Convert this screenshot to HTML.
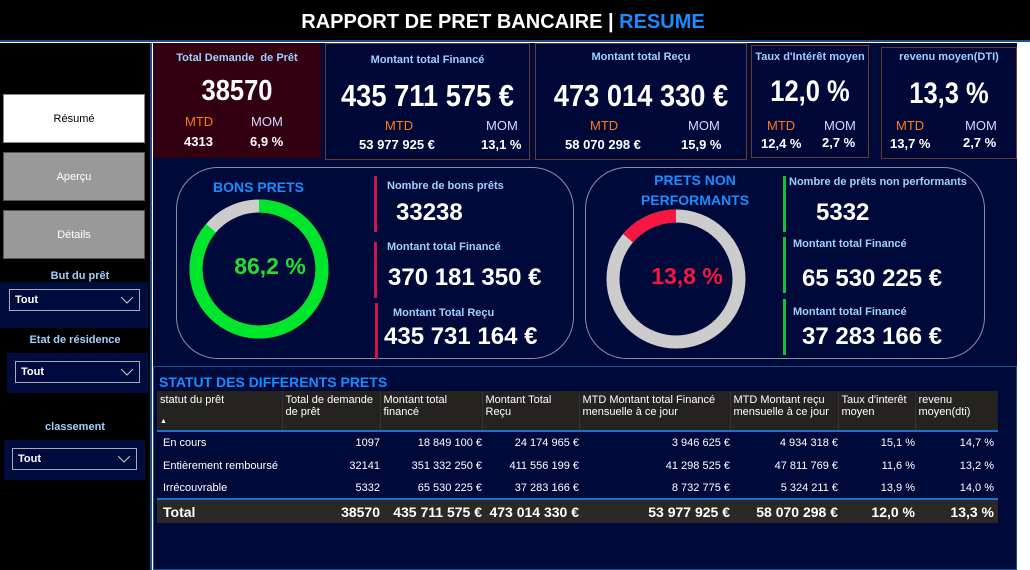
<!DOCTYPE html>
<html><head><meta charset="utf-8"><style>
*{margin:0;padding:0;box-sizing:border-box}
body{width:1030px;height:570px;background:#fff;position:relative;overflow:hidden;font-family:"Liberation Sans",sans-serif}
.a{position:absolute}
.big{font-family:"Liberation Sans Narrow","Liberation Sans",sans-serif;font-weight:bold;color:#fff;text-align:center}
.card .big{transform:scaleX(0.88)}
.lbl{color:#9fd0ff;font-weight:bold;font-size:11px}
.card{position:absolute;border:1px solid #6a3a2c;background:#000838}
.card .t{position:absolute;width:100%;text-align:center;top:8px}
.mtd{position:absolute;color:#ff7a1a;font-size:13px;font-family:"Liberation Sans",sans-serif}
.mom{position:absolute;color:#cfd8ff;font-size:13px;font-family:"Liberation Sans",sans-serif}
.v{position:absolute;color:#fff;font-weight:bold;font-size:13px;font-family:"Liberation Sans Narrow","Liberation Sans",sans-serif}
.btn{position:absolute;left:3px;width:142px;height:49px;font-size:11px;display:flex;align-items:center;justify-content:center;border:1px solid #555}
.flab{position:absolute;width:150px;text-align:center;color:#9fd0ff;font-size:11px;font-weight:bold}
.fpan{position:absolute;background:#000b3e}
.sel{position:absolute;border:1px solid #aab;color:#fff;font-size:11px;font-weight:bold;padding:4px 0 0 5px}
.sel svg{position:absolute;right:6px;top:7px}
.bar{position:absolute;width:3px}
table{border-collapse:collapse;font-family:"Liberation Sans Narrow","Liberation Sans",sans-serif;font-size:11px;color:#fff}
</style></head><body>
<div class="a" style="left:0;top:0;width:1030px;height:42px;background:#000;border-bottom:2px solid #1b4e8a"></div>
<div class="a" style="left:0;top:11px;width:1006px;text-align:center;font-size:20px;font-weight:bold;color:#fff">RAPPORT DE PRET BANCAIRE | <span style="color:#1a8cff">RESUME</span></div>
<div class="a" style="left:0;top:43px;width:152px;height:527px;background:#000;border-right:2px solid #1b4e8a"></div>
<div class="a" style="left:153px;top:43px;width:864px;height:527px;background:#000a3a"></div>
<div class="btn" style="top:94px;background:#fff;color:#000;border-color:#888">Résumé</div>
<div class="btn" style="top:152px;background:#999;color:#fff">Aperçu</div>
<div class="btn" style="top:210px;background:#999;color:#fff">Détails</div>

<div class="flab" style="left:5px;top:270px">But du prêt</div>
<div class="fpan" style="left:0;top:282px;width:148px;height:46px"></div>
<div class="sel" style="left:9px;top:289px;width:131px;height:22px">Tout<svg width="12" height="7"><polyline points="0,0 6,6 12,0" fill="none" stroke="#ccc" stroke-width="1"/></svg></div>
<div class="flab" style="left:0;top:334px">Etat de résidence</div>
<div class="fpan" style="left:7px;top:353px;width:141px;height:40px"></div>
<div class="sel" style="left:15px;top:361px;width:125px;height:22px">Tout<svg width="12" height="7"><polyline points="0,0 6,6 12,0" fill="none" stroke="#ccc" stroke-width="1"/></svg></div>
<div class="flab" style="left:0;top:421px">classement</div>
<div class="fpan" style="left:4px;top:440px;width:141px;height:40px"></div>
<div class="sel" style="left:12px;top:448px;width:125px;height:22px">Tout<svg width="12" height="7"><polyline points="0,0 6,6 12,0" fill="none" stroke="#ccc" stroke-width="1"/></svg></div>

<div class="card" style="left:153px;top:43px;width:168px;height:115px;background:#330012;border-color:#330012">
 <div class="t lbl">Total Demande&nbsp; de Prêt</div>
 <div class="a big" style="top:31px;width:100%;font-size:29px">38570</div>
 <div class="mtd" style="left:31px;top:70px">MTD</div><div class="mom" style="left:97px;top:70px">MOM</div>
 <div class="v" style="left:30px;top:90px">4313</div><div class="v" style="left:96px;top:90px">6,9 %</div>
</div>
<div class="card" style="left:325px;top:43px;width:205px;height:117px">
 <div class="t lbl" style="top:10px">Montant total Financé</div>
 <div class="a big" style="top:34px;width:100%;font-size:31px">435 711 575 €</div>
 <div class="mtd" style="left:59px;top:74px">MTD</div><div class="mom" style="left:160px;top:74px">MOM</div>
 <div class="v" style="left:33px;top:93px">53 977 925 €</div><div class="v" style="left:155px;top:93px">13,1 %</div>
</div>
<div class="card" style="left:535px;top:43px;width:212px;height:117px">
 <div class="t lbl" style="top:7px">Montant total Reçu</div>
 <div class="a big" style="top:34px;width:100%;font-size:31px">473 014 330 €</div>
 <div class="mtd" style="left:54px;top:74px">MTD</div><div class="mom" style="left:152px;top:74px">MOM</div>
 <div class="v" style="left:29px;top:93px">58 070 298 €</div><div class="v" style="left:145px;top:93px">15,9 %</div>
</div>
<div class="card" style="left:751px;top:45px;width:118px;height:113px">
 <div class="t lbl" style="top:5px">Taux d'Intérêt moyen</div>
 <div class="a big" style="top:29px;width:100%;font-size:30px;transform:scaleX(0.85)">12,0 %</div>
 <div class="mtd" style="left:15px;top:72px">MTD</div><div class="mom" style="left:72px;top:72px">MOM</div>
 <div class="v" style="left:9px;top:90px">12,4 %</div><div class="v" style="left:70px;top:89px">2,7 %</div>
</div>
<div class="card" style="left:881px;top:47px;width:136px;height:112px">
 <div class="t lbl" style="top:3px">revenu moyen(DTI)</div>
 <div class="a big" style="top:29px;width:100%;font-size:30px;transform:scaleX(0.85)">13,3 %</div>
 <div class="mtd" style="left:14px;top:70px">MTD</div><div class="mom" style="left:83px;top:70px">MOM</div>
 <div class="v" style="left:8px;top:88px">13,7 %</div><div class="v" style="left:81px;top:87px">2,7 %</div>
</div>

<div class="a" style="left:176px;top:167px;width:398px;height:192px;border:1px solid #8a8fa8;border-radius:42px"></div>
<div class="a" style="left:213px;top:179px;color:#1a8cff;font-weight:bold;font-size:14px">BONS PRETS</div>
<svg class="a" style="left:0;top:0" width="1030" height="570" id="donuts"></svg>
<div class="bar" style="left:374px;top:176px;height:56px;background:#c8174a"></div>
<div class="bar" style="left:374px;top:242px;height:56px;background:#c8174a"></div>
<div class="bar" style="left:375px;top:303px;height:56px;background:#c8174a"></div>
<div class="a lbl" style="left:387px;top:180px">Nombre de bons prêts</div>
<div class="a big" style="left:396px;top:199px;font-size:24px">33238</div>
<div class="a lbl" style="left:387px;top:241px">Montant total Financé</div>
<div class="a big" style="left:388px;top:264px;font-size:24px">370 181 350 €</div>
<div class="a lbl" style="left:393px;top:307px">Montant Total Reçu</div>
<div class="a big" style="left:384px;top:323px;font-size:24px">435 731 164 €</div>

<div class="a" style="left:585px;top:167px;width:400px;height:192px;border:1px solid #8a8fa8;border-radius:42px"></div>
<div class="a" style="left:635px;top:170px;width:120px;text-align:center;color:#1a8cff;font-weight:bold;font-size:14px;line-height:20px">PRETS NON PERFORMANTS</div>
<div class="bar" style="left:783px;top:176px;height:56px;background:#10c040"></div>
<div class="bar" style="left:783px;top:237px;height:56px;background:#10c040"></div>
<div class="bar" style="left:783px;top:299px;height:56px;background:#10c040"></div>
<div class="a lbl" style="left:789px;top:176px">Nombre de prêts non performants</div>
<div class="a big" style="left:816px;top:199px;font-size:24px">5332</div>
<div class="a lbl" style="left:793px;top:238px">Montant total Financé</div>
<div class="a big" style="left:802px;top:265px;font-size:24px">65 530 225 €</div>
<div class="a lbl" style="left:793px;top:306px">Montant total Financé</div>
<div class="a big" style="left:802px;top:323px;font-size:24px">37 283 166 €</div>

<div class="a" style="left:153px;top:366px;width:864px;height:204px;border:1px solid #1b4e8a"></div>
<div class="a" style="left:159px;top:374px;color:#1a8cff;font-weight:bold;font-size:14px">STATUT DES DIFFERENTS PRETS</div>
<table class="a" style="left:157px;top:391px;width:841px">
<colgroup><col style="width:125px"><col style="width:98px"><col style="width:102px"><col style="width:97px"><col style="width:151px"><col style="width:108px"><col style="width:77px"><col style="width:83px"></colgroup>
<tr style="background:#24231f;height:40px;vertical-align:top;border-bottom:2px solid #1a6fd0">
<td style="padding:3px;position:relative">statut du prêt<div style="font-size:7px;margin-top:12px">▲</div></td>
<td style="padding:3px;border-left:1px solid #333">Total de demande de prêt</td><td style="padding:3px;border-left:1px solid #333">Montant total financé</td><td style="padding:3px;border-left:1px solid #333">Montant Total Reçu</td><td style="padding:3px;border-left:1px solid #333">MTD Montant total Financé mensuelle à ce jour</td><td style="padding:3px;border-left:1px solid #333">MTD Montant reçu mensuelle à ce jour</td><td style="padding:3px;border-left:1px solid #333">Taux d'interêt moyen</td><td style="padding:3px;border-left:1px solid #333">revenu moyen(dti)</td></tr>
<tr style="height:23px;text-align:right"><td style="text-align:left;padding-left:6px">En cours</td><td>1097</td><td>18 849 100 €</td><td>24 174 965 €</td><td>3 946 625 €</td><td>4 934 318 €</td><td>15,1 %</td><td style="padding-right:4px">14,7 %</td></tr>
<tr style="height:23px;text-align:right"><td style="text-align:left;padding-left:6px">Entièrement remboursé</td><td>32141</td><td>351 332 250 €</td><td>411 556 199 €</td><td>41 298 525 €</td><td>47 811 769 €</td><td>11,6 %</td><td style="padding-right:4px">13,2 %</td></tr>
<tr style="height:22px;text-align:right;border-bottom:2px solid #1a6fd0"><td style="text-align:left;padding-left:6px">Irrécouvrable</td><td>5332</td><td>65 530 225 €</td><td>37 283 166 €</td><td>8 732 775 €</td><td>5 324 211 €</td><td>13,9 %</td><td style="padding-right:4px">14,0 %</td></tr>
<tr style="height:24px;text-align:right;background:#2a2926;font-size:14px;font-weight:bold"><td style="text-align:left;padding-left:6px">Total</td><td>38570</td><td>435 711 575 €</td><td>473 014 330 €</td><td>53 977 925 €</td><td>58 070 298 €</td><td>12,0 %</td><td style="padding-right:4px">13,3 %</td></tr>
</table>

<script>
const donutNames = ['bons-prets', 'non-performants'];
const donutShares = [86.2, 13.8];
const donutLabels = ['86,2 %', '13,8 %'];
const donutColors = ['#00e62a', '#f5173f'];
const centers = [[259, 269], [676, 279]];
const svg = document.getElementById('donuts');
const NS = 'http://www.w3.org/2000/svg';
function pt(cx, cy, r, a) { return [cx + r * Math.sin(a), cy - r * Math.cos(a)]; }
donutShares.forEach((v, i) => {
  const [cx, cy] = centers[i], r = 63, w = 13;
  const bg = document.createElementNS(NS, 'circle');
  bg.setAttribute('cx', cx); bg.setAttribute('cy', cy); bg.setAttribute('r', r);
  bg.setAttribute('fill', 'none'); bg.setAttribute('stroke', '#cccccc'); bg.setAttribute('stroke-width', w);
  
  
  svg.appendChild(bg);
  const ang = v / 100 * 2 * Math.PI;
  const dir = i === 0 ? 1 : -1;
  const p0 = pt(cx, cy, r, 0), p1 = pt(cx, cy, r, dir * ang);
  const arc = document.createElementNS(NS, 'path');
  arc.setAttribute('d', `M${p0[0]} ${p0[1]} A${r} ${r} 0 ${ang > Math.PI ? 1 : 0} ${dir > 0 ? 1 : 0} ${p1[0]} ${p1[1]}`);
  arc.setAttribute('fill', 'none'); arc.setAttribute('stroke', donutColors[i]); arc.setAttribute('stroke-width', w);
  
  
  svg.appendChild(arc);
  const t = document.createElementNS(NS, 'text');
  t.setAttribute('x', cx + 11); t.setAttribute('y', cy + 5);
  t.setAttribute('text-anchor', 'middle');
  t.setAttribute('fill', i === 0 ? '#22dd33' : '#f5173f');
  t.setAttribute('font-family', '"Liberation Sans Narrow","Liberation Sans",sans-serif');
  t.setAttribute('font-weight', 'bold'); t.setAttribute('font-size', '23');
  t.textContent = donutLabels[i];
  
  
  svg.appendChild(t);
});
</script>
</body></html>
